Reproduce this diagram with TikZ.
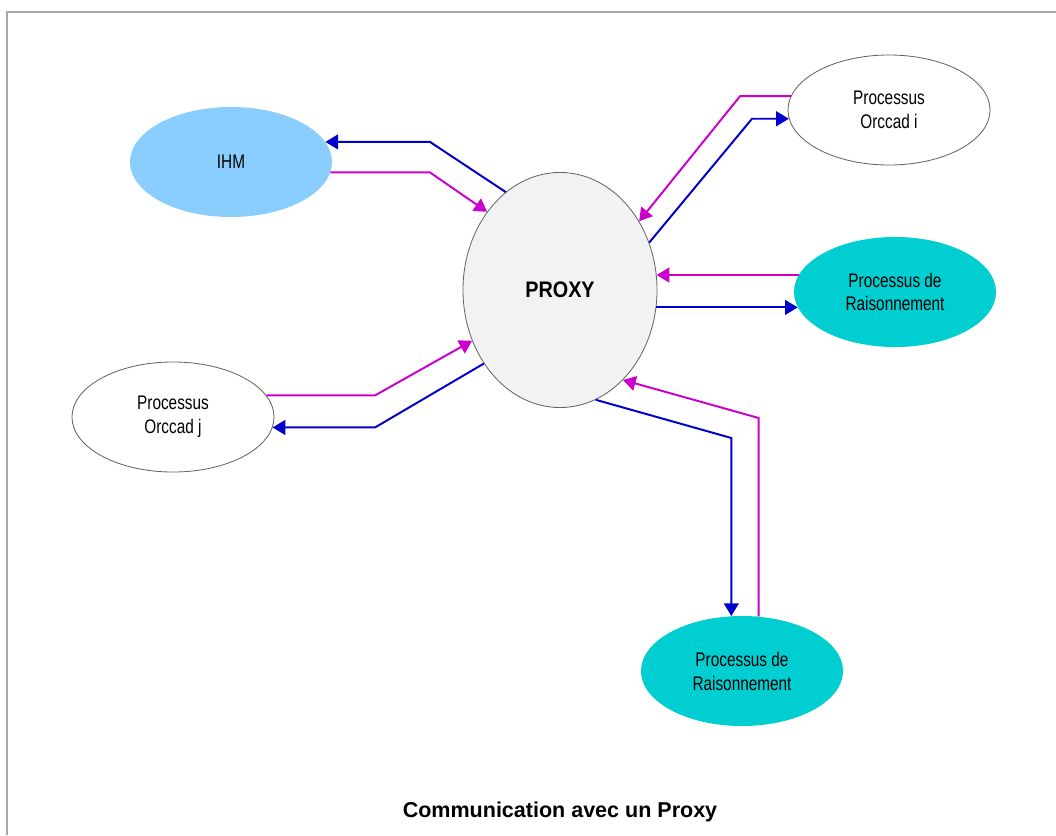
\documentclass[tikz,border=0pt]{standalone}
\usepackage{fontspec}
\setmainfont{Liberation Sans}
\newfontfamily\narrowsf{Liberation Sans}[FakeStretch=0.78]
\newfontfamily\semisf{Liberation Sans}[FakeStretch=0.88]
\definecolor{pxBlue}{HTML}{0000CD}
\definecolor{pxMagenta}{HTML}{CC00CC}
\definecolor{pxSky}{HTML}{8ACEFF}
\definecolor{pxTeal}{HTML}{00CED1}
\definecolor{pxGrey}{HTML}{F2F2F2}
\definecolor{pxFrame}{HTML}{A8A8A8}
\usetikzlibrary{arrows.meta,shapes.geometric}

\begin{document}
\begin{tikzpicture}[
  x=0.025cm,y=-0.025cm,
  ov/.style={ellipse,minimum width=5.05cm,minimum height=2.75cm,inner sep=0pt,
             align=center,font=\narrowsf\fontsize{14}{17}\selectfont},
  rim/.style={draw=black!60,line width=0.6pt},
  req/.style={pxBlue,line width=1.4pt,-{Triangle[length=9pt,width=10.5pt]}},
  rep/.style={pxMagenta,line width=1.4pt,-{Triangle[length=9pt,width=10.5pt]}}
]
\useasboundingbox (0,0) rectangle (1056,835);
% frame
\draw[pxFrame,line width=1.4pt] (1056,12) -- (7,12) -- (7,835);
% nodes
\node[ellipse,rim,fill=pxGrey,minimum width=4.85cm,minimum height=5.875cm,inner sep=0pt,
      font=\semisf\bfseries\fontsize{16}{19}\selectfont] (proxy) at (560,290) {PROXY};
\node[ov,fill=pxSky] (ihm) at (231,162) {IHM};
\node[ov,rim,fill=white] (oi) at (889,110) {Processus\\Orccad i};
\node[ov,fill=pxTeal] (rr) at (895,292) {Processus de\\Raisonnement};
\node[ov,rim,fill=white] (oj) at (173,417) {Processus\\Orccad j};
\node[ov,fill=pxTeal] (rb) at (742,671) {Processus de\\Raisonnement};
% bends
\coordinate (kIhm) at (430,0);
\coordinate (kOiM) at (740,96);
\coordinate (kOiB) at (752,118);
\coordinate (kOj) at (375,0);
\coordinate (kRbB) at (0,438);
\coordinate (kRbM) at (0,418);
% IHM
\draw[req] (proxy.119) -- (ihm.12 -| kIhm) -- (ihm.12);
\draw[rep] (ihm.-6) -- (ihm.-6 -| kIhm) -- (proxy.133);
% Orccad i
\draw[rep] (oi.172) -- (oi.172 -| kOiM) -- (proxy.41);
\draw[req] (proxy.28) -- (oi.185 -| kOiB) -- (oi.185);
% Raisonnement, right
\draw[rep] (rr.170) -- (rr.170 -| proxy.9);
\draw[req] (proxy.-10 |- rr.189) -- (rr.189);
% Orccad j
\draw[rep] (oj.13) -- (oj.13 -| kOj) -- (proxy.210);
\draw[req] (proxy.224) -- (oj.-6 -| kOj) -- (oj.-6);
% Raisonnement, below
\draw[req] (proxy.-72) -- (rb.101 |- kRbB) -- (rb.101);
\draw[rep] (rb.73) -- (rb.73 |- kRbM) -- (proxy.-55);
% caption
\node[font=\bfseries\fontsize{15.3}{18}\selectfont] (title) at (560,812) {Communication avec un Proxy};
\end{tikzpicture}
\end{document}
